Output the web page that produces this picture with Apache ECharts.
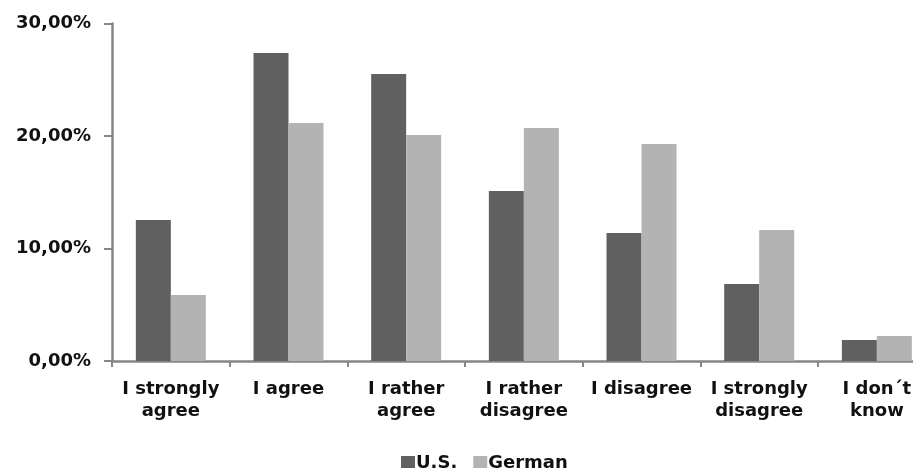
<!DOCTYPE html>
<html>
<head>
<meta charset="utf-8">
<script src="https://cdn.jsdelivr.net/npm/echarts@6/dist/echarts.min.js"></script>
<style>
  html, body { margin: 0; padding: 0; background: #ffffff; overflow: hidden; }
  /* the category axis runs past the right edge of the window */
  #chart { width: 936px; height: 468px; }
</style>
</head>
<body>
<div id="chart"></div>
<script>
// Survey answers by response category (share of respondents, %)
const categories = [
  "I strongly\nagree",
  "I agree",
  "I rather\nagree",
  "I rather\ndisagree",
  "I disagree",
  "I strongly\ndisagree",
  "I don´t\nknow"
];
const usValues = [12.53, 27.38, 25.51, 15.11, 11.38, 6.84, 1.87];
const germanValues = [5.87, 21.16, 20.09, 20.71, 19.29, 11.64, 2.22];
const seriesNames = ["U.S.", "German"];
const yTicks = { min: 0, max: 30, step: 10 };

const axisGrey = "#868686";
const textFont = { fontFamily: "DejaVu Sans", fontWeight: "bold", fontSize: 18, color: "#111111" };

const chart = echarts.init(document.getElementById("chart"), null, { renderer: "canvas" });

chart.setOption({
  animation: false,
  backgroundColor: "#ffffff",
  grid: { left: 112, top: 23.5, bottom: 107, right: 0.3, containLabel: false },
  legend: {
    data: seriesNames,
    left: 396,
    top: 449,
    itemWidth: 14,
    itemHeight: 14,
    itemGap: 16,
    icon: "rect",
    textStyle: Object.assign({}, textFont, { padding: [0, 0, 0, -4] })
  },
  xAxis: {
    type: "category",
    data: categories,
    axisLine: { lineStyle: { color: axisGrey, width: 2.5 } },
    axisTick: { show: true, length: 6, lineStyle: { color: axisGrey, width: 2 } },
    axisLabel: Object.assign({}, textFont, { margin: 17, lineHeight: 22, interval: 0 })
  },
  yAxis: {
    type: "value",
    min: yTicks.min,
    max: yTicks.max,
    interval: yTicks.step,
    splitLine: { show: false },
    axisLine: { show: true, lineStyle: { color: axisGrey, width: 2.5 } },
    axisTick: { show: true, length: 8, lineStyle: { color: axisGrey, width: 2 } },
    axisLabel: Object.assign({}, textFont, {
      margin: 21,
      formatter: v => v.toFixed(2).replace(".", ",") + "%"
    })
  },
  series: [
    {
      name: seriesNames[0],
      type: "bar",
      data: usValues,
      barWidth: 35,
      barGap: "0%",
      itemStyle: { color: "#606060" }
    },
    {
      name: seriesNames[1],
      type: "bar",
      data: germanValues,
      barWidth: 35,
      barGap: "0%",
      itemStyle: { color: "#b3b3b3" }
    }
  ]
});
</script>
</body>
</html>
